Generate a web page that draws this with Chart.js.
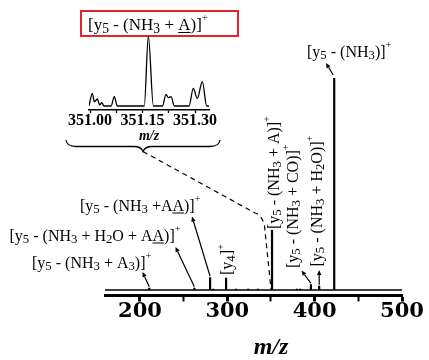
<!DOCTYPE html>
<html><head><meta charset="utf-8">
<script src="https://cdn.jsdelivr.net/npm/chart.js@4.4.0/dist/chart.umd.min.js"></script>
<style>
html,body{margin:0;padding:0;background:#fff;}
#wrap{position:relative;width:429px;height:360px;overflow:hidden;}
#main{position:absolute;left:0;top:0;width:429px;height:360px;}
#inset{position:absolute;left:0;top:0;width:429px;height:151px;}
</style></head><body>
<div id="wrap">
<canvas id="main" width="429" height="360"></canvas>
<canvas id="inset" width="429" height="151"></canvas>
</div>
<script>
// ---- main spectrum (stick peaks) ----
const peakMz  = [210.7, 262.3, 280.3, 284.0, 298.6, 310.0, 324.0, 335.0, 351.2, 379.7, 383.4, 395.7, 405.2, 422.4];
const peakInt = [1.1,   1.1,   6.0,   0.6,   5.8,   0.6,   0.6,   0.6,   28.3,  0.6,   0.6,   2.7,   2.0,   100];
const mainMin = 160, mainMax = 500;
const mainTickLabels = [200, 300, 400, 500];
const mainTitle = 'm/z';

// ---- inset profile (high resolution around 351.15) ----
const insetMz  = [350.997, 351.0066, 351.0123, 351.0209, 351.0275, 351.0334, 351.040, 351.060, 351.0694, 351.078,
                  351.155, 351.1666, 351.181, 351.207, 351.2171, 351.2237, 351.2314, 351.241,
                  351.283, 351.2951, 351.3066, 351.3209, 351.3334, 351.34];
const insetInt = [0, 18, 6, 10, 1.5, 4.7, 0, 0, 13.3, 0,
                  0, 100, 0, 0, 16.7, 11.9, 13.3, 0,
                  0, 25.3, 11, 34.7, 0, 0];
const insetLabels = ['351.00', '351.15', '351.30'];

const FONT = '"Liberation Serif", "Times New Roman", serif';

function drawRich(ctx, segs, x, y, fs, rot){
  ctx.save(); ctx.translate(x, y); if (rot) ctx.rotate(-Math.PI/2);
  ctx.fillStyle = '#000'; ctx.textBaseline = 'alphabetic'; ctx.textAlign = 'left';
  let cx = 0;
  for (const [t, s] of segs){
    let size = fs, dy = 0;
    if (s === 'sub'){ size = fs*0.8; dy = fs*0.18; }
    else if (s === 'sup'){ size = fs*0.65; dy = -fs*0.52; }
    ctx.font = size + 'px ' + FONT;
    ctx.fillText(t, cx, dy);
    const w = ctx.measureText(t).width;
    if (s === 'u') ctx.fillRect(cx, dy + 2, w, 1);
    cx += w;
  }
  ctx.restore();
  return cx;
}
function arrow(ctx, x1, y1, x2, y2){
  ctx.save(); ctx.strokeStyle = '#000'; ctx.fillStyle = '#000'; ctx.lineWidth = 1.2;
  const a = Math.atan2(y2 - y1, x2 - x1), L = 5, W = 2.2;
  const bx = x2 - L*Math.cos(a), by = y2 - L*Math.sin(a);
  ctx.beginPath(); ctx.moveTo(x1, y1); ctx.lineTo(bx, by); ctx.stroke();
  ctx.beginPath(); ctx.moveTo(x2, y2);
  ctx.lineTo(bx + W*Math.sin(a), by - W*Math.cos(a));
  ctx.lineTo(bx - W*Math.sin(a), by + W*Math.cos(a));
  ctx.closePath(); ctx.fill(); ctx.restore();
}

const annot = {
  id: 'annot',
  afterDraw(chart){
    const ctx = chart.ctx, xs = chart.scales.x, ys = chart.scales.y;
    const px = m => xs.getPixelForValue(m), py = v => ys.getPixelForValue(v);
    ctx.save();
    // axis title (placed right of centre as in the original)
    ctx.fillStyle = '#000'; ctx.textAlign = 'center'; ctx.textBaseline = 'middle';
    ctx.font = 'italic bold 24px ' + FONT;
    ctx.fillText(mainTitle, 271, 348);
    // red box with inset title
    ctx.strokeStyle = '#e3242b'; ctx.lineWidth = 2;
    ctx.strokeRect(81, 11, 157, 25);
    drawRich(ctx, [['[y','n'],['5','sub'],[' - (NH','n'],['3','sub'],[' + ','n'],['A','u'],[')]','n'],['+','sup']], 88, 30, 17);
    // brace
    ctx.strokeStyle = '#000'; ctx.lineWidth = 1.3;
    ctx.beginPath();
    ctx.moveTo(66, 140); ctx.quadraticCurveTo(67, 146.5, 76, 146.5);
    ctx.lineTo(134, 146.5); ctx.quadraticCurveTo(141, 146.5, 143, 151.5);
    ctx.quadraticCurveTo(145, 146.5, 152, 146.5); ctx.lineTo(210, 146.5);
    ctx.quadraticCurveTo(219, 146.5, 220, 140);
    ctx.stroke();
    // dashed connector to the 351 peak
    ctx.setLineDash([5, 4]); ctx.lineWidth = 1.2;
    ctx.beginPath();
    ctx.moveTo(143, 151.5); ctx.lineTo(255, 213);
    ctx.quadraticCurveTo(262, 215, 264.5, 226);
    ctx.lineTo(px(351.2) - 1, py(0) - 1);
    ctx.stroke();
    ctx.setLineDash([]);
    // labels
    drawRich(ctx, [['[y','n'],['5','sub'],[' - (NH','n'],['3','sub'],[')]','n'],['+','sup']], 307, 56.5, 16);
    arrow(ctx, px(422.4) - 1, py(100) - 3, 326, 63);
    drawRich(ctx, [['[y','n'],['5','sub'],[' - (NH','n'],['3','sub'],[' + A','n'],['3','sub'],[')]','n'],['+','sup']], 32, 267.5, 16);
    arrow(ctx, px(210.7), py(1.1) - 1, 142.5, 272);
    drawRich(ctx, [['[y','n'],['5','sub'],[' - (NH','n'],['3','sub'],[' + H','n'],['2','sub'],['O + A','n'],['A','u'],[')]','n'],['+','sup']], 9.5, 240.5, 16);
    arrow(ctx, px(262.3), py(1.1) - 1, 175.5, 247);
    drawRich(ctx, [['[y','n'],['5','sub'],[' - (NH','n'],['3','sub'],[' +A','n'],['A','u'],[')]','n'],['+','sup']], 80, 210.5, 16);
    arrow(ctx, px(280.3), py(6) - 1, 192, 216.5);
    // vertical labels
    drawRich(ctx, [['[y','n'],['4','sub'],[']','n'],['+','sup']], 232, 275, 16, true);
    drawRich(ctx, [['[y','n'],['5','sub'],[' - (NH','n'],['3','sub'],[' + A)]','n'],['+','sup']], 278.5, 229, 16, true);
    drawRich(ctx, [['[y','n'],['5','sub'],[' - (NH','n'],['3','sub'],[' + CO)]','n'],['+','sup']], 297.5, 268, 16, true);
    arrow(ctx, px(395.7), py(2.7) - 1, 301.5, 270.5);
    drawRich(ctx, [['[y','n'],['5','sub'],[' - (NH','n'],['3','sub'],[' + H','n'],['2','sub'],['O)]','n'],['+','sup']], 321.5, 266.5, 16, true);
    arrow(ctx, px(405.2), py(2.0) - 1, px(405.2), 270);
    ctx.restore();
  }
};

const sticks = [];
peakMz.forEach((m, i) => { sticks.push({x: m, y: 0}, {x: m, y: peakInt[i]}, {x: m, y: null}); });

new Chart(document.getElementById('main'), {
  type: 'scatter',
  data: { datasets: [
    { data: [{x: mainMin, y: 0}, {x: mainMax, y: 0}], showLine: true, borderColor: '#000', borderWidth: 1.3, pointRadius: 0 },
    { data: sticks, showLine: true, spanGaps: false, borderColor: '#000', borderWidth: 2.2, pointRadius: 0, borderCapStyle: 'butt' }
  ]},
  options: {
    responsive: false, animation: false, devicePixelRatio: 1,
    plugins: { legend: { display: false }, tooltip: { enabled: false } },
    layout: { padding: { left: 105, right: 27, top: 78, bottom: 37.5 } },
    scales: {
      x: {
        type: 'linear', min: mainMin, max: mainMax,
        border: { display: true, color: '#000', width: 3 },
        grid: { display: true, drawOnChartArea: false, drawTicks: true, tickLength: 6, tickColor: '#000',
                tickWidth: c => (c.tick && mainTickLabels.includes(c.tick.value)) ? 3 : 2 },
        ticks: { stepSize: 50, includeBounds: false, autoSkip: false, maxRotation: 0, minRotation: 0, padding: 0, color: '#000',
                 font: { family: 'DejaVu Serif', weight: 'bold', size: 21, lineHeight: 1 },
                 callback: v => mainTickLabels.includes(v) ? String(v) : '' },
        title: { display: false }
      },
      y: { display: false, min: -2.6, max: 100 }
    }
  },
  plugins: [annot]
});

new Chart(document.getElementById('inset'), {
  type: 'scatter',
  data: { datasets: [{
    data: insetMz.map((m, i) => ({x: m, y: insetInt[i]})),
    showLine: true, borderColor: '#000', borderWidth: 1.3, pointRadius: 0,
    cubicInterpolationMode: 'monotone', tension: 0.4
  }]},
  options: {
    responsive: false, animation: false, devicePixelRatio: 1,
    plugins: { legend: { display: false }, tooltip: { enabled: false } },
    layout: { padding: { left: 89, right: 220, top: 36, bottom: 0 } },
    scales: {
      x: {
        type: 'linear', min: 350.997, max: 351.34,
        border: { display: true, color: '#000', width: 1.5 },
        grid: { display: true, drawOnChartArea: false, drawTicks: true, tickLength: 3, tickColor: '#000', tickWidth: 1.3 },
        ticks: { stepSize: 0.075, includeBounds: false, autoSkip: false, maxRotation: 0, minRotation: 0, padding: 0, color: '#000',
                 font: { family: FONT, weight: 'bold', size: 16, lineHeight: 1 },
                 callback: v => { const s = v.toFixed(2); return (Math.round(v*1000) % 150 === 0 && insetLabels.includes(s)) ? s : ''; } },
        title: { display: true, text: 'm/z', color: '#000',
                 font: { family: FONT, style: 'italic', weight: 'bold', size: 14, lineHeight: 1 },
                 padding: { top: 0, bottom: 8 } }
      },
      y: { display: false, min: -5.7, max: 100 }
    }
  }
});
</script>
</body></html>
